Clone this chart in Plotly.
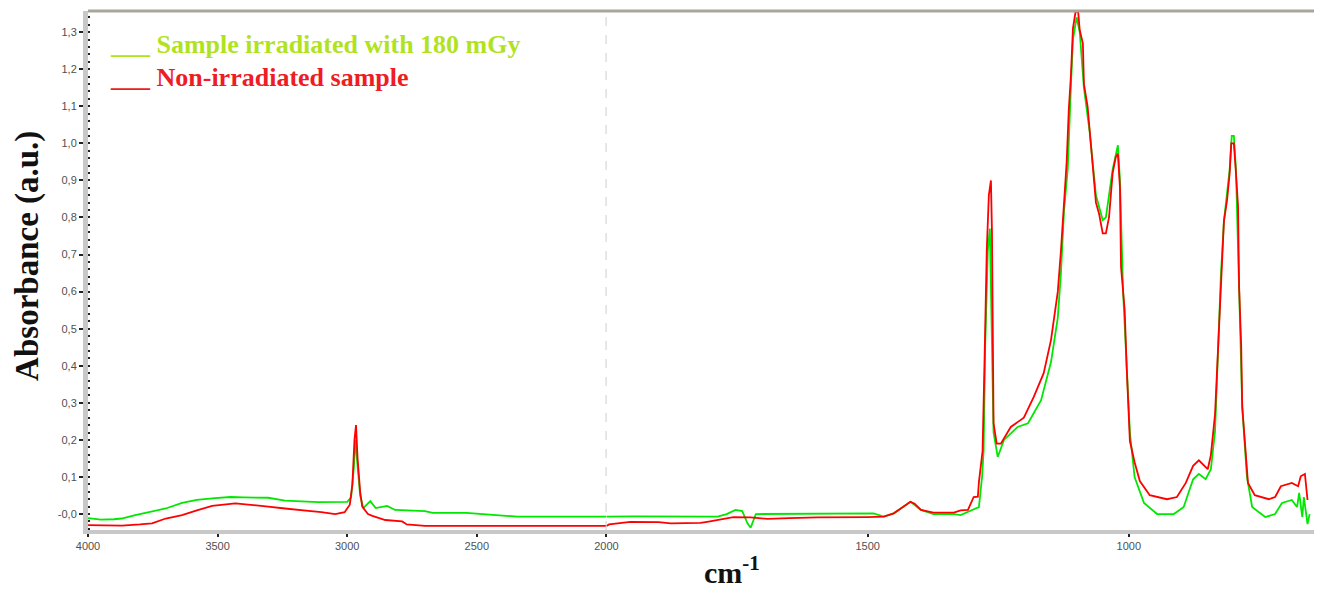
import numpy as np
import plotly.graph_objects as go

# ---- data (wavenumber cm-1, absorbance) ----
red_w = [4000, 3950, 3869, 3800, 3753, 3700, 3637, 3580, 3521, 3432, 3380, 3305, 3240, 3174, 3100,
         3046, 3010, 2990, 2980, 2972, 2966, 2960, 2950, 2942, 2920, 2903, 2870, 2853, 2788, 2770,
         2700, 2000, 1995, 1954, 1900, 1877, 1820, 1807, 1770, 1757, 1724, 1692, 1650, 1596, 1500,
         1469, 1450, 1430, 1418, 1410, 1398, 1374, 1335, 1322, 1308, 1297, 1289, 1287, 1280, 1276,
         1272, 1268, 1264, 1262, 1261, 1259, 1253, 1245, 1226, 1201, 1182, 1163, 1149, 1136, 1130,
         1124, 1119, 1115, 1111, 1107, 1102, 1097, 1094, 1088, 1086, 1079, 1075, 1069, 1063, 1057,
         1050, 1044, 1038, 1031, 1025, 1021, 1017, 1015, 1011, 1008, 1004, 1001, 998, 989, 979,
         960, 927, 908, 891, 877, 866, 849, 843, 835, 829, 824, 818, 812, 807, 804,
         799, 795, 791, 789, 785, 783, 777, 772, 759, 732, 720, 709, 688, 676, 671,
         663, 658]
red_a = [-0.030, -0.031, -0.031, -0.028, -0.025, -0.012, -0.003, 0.010, 0.022, 0.029, 0.026, 0.020, 0.015, 0.011, 0.005,
         0.000, 0.005, 0.025, 0.080, 0.200, 0.240, 0.150, 0.060, 0.020, 0.000, -0.005, -0.012, -0.016, -0.020, -0.028,
         -0.032, -0.032, -0.028, -0.021, -0.022, -0.025, -0.024, -0.021, -0.012, -0.008, -0.009, -0.013, -0.011, -0.009, -0.008,
         -0.007, 0.002, 0.020, 0.033, 0.028, 0.011, 0.004, 0.004, 0.010, 0.011, 0.046, 0.047, 0.086, 0.170, 0.430,
         0.710, 0.860, 0.900, 0.760, 0.510, 0.245, 0.190, 0.190, 0.235, 0.260, 0.316, 0.380, 0.470, 0.600, 0.710,
         0.850, 0.950, 1.090, 1.180, 1.310, 1.355, 1.355, 1.305, 1.270, 1.160, 1.100, 1.030, 0.930, 0.840, 0.810,
         0.757, 0.757, 0.800, 0.920, 0.963, 0.972, 0.880, 0.667, 0.585, 0.550, 0.390, 0.300, 0.197, 0.140, 0.089,
         0.051, 0.040, 0.046, 0.084, 0.130, 0.145, 0.121, 0.159, 0.270, 0.456, 0.640, 0.790, 0.847, 0.920, 1.000,
         1.000, 0.920, 0.830, 0.615, 0.456, 0.290, 0.178, 0.084, 0.051, 0.040, 0.046, 0.075, 0.084, 0.075, 0.102,
         0.108, 0.038]

green_w = [4000, 3950, 3900, 3870, 3818, 3760, 3700, 3637, 3580, 3510, 3450, 3400, 3305, 3240, 3112,
           3000, 2985, 2975, 2968, 2960, 2950, 2938, 2911, 2890, 2846, 2815, 2700, 2670, 2540, 2400,
           2344, 2000, 1948, 1787, 1770, 1753, 1740, 1730, 1724, 1714, 1653, 1600, 1489, 1469, 1450,
           1418, 1398, 1374, 1335, 1322, 1287, 1281, 1278, 1275, 1270, 1266, 1262, 1259, 1251, 1239,
           1213, 1193, 1168, 1149, 1136, 1130, 1124, 1117, 1111, 1107, 1100, 1094, 1086, 1075, 1063,
           1050, 1044, 1031, 1021, 1017, 1011, 1004, 998, 989, 971, 946, 914, 895, 877, 866,
           853, 843, 835, 829, 824, 818, 807, 803, 799, 795, 789, 783, 774, 764, 739,
           720, 707, 688, 678, 674, 668, 665, 658, 654]
green_a = [-0.011, -0.015, -0.014, -0.012, -0.003, 0.005, 0.015, 0.030, 0.038, 0.043, 0.046, 0.045, 0.044, 0.036, 0.032,
           0.033, 0.045, 0.120, 0.200, 0.130, 0.050, 0.016, 0.035, 0.016, 0.022, 0.011, 0.008, 0.003, 0.003, -0.004,
           -0.007, -0.007, -0.006, -0.007, 0.000, 0.011, 0.008, -0.025, -0.037, 0.000, 0.000, 0.002, 0.002, -0.007, 0.002,
           0.033, 0.011, 0.000, 0.000, -0.003, 0.019, 0.100, 0.170, 0.450, 0.710, 0.770, 0.500, 0.220, 0.154, 0.200,
           0.235, 0.245, 0.307, 0.410, 0.530, 0.650, 0.820, 0.930, 1.150, 1.280, 1.340, 1.300, 1.150, 1.030, 0.860,
           0.793, 0.800, 0.930, 0.995, 0.900, 0.600, 0.400, 0.220, 0.100, 0.030, 0.000, 0.000, 0.019, 0.094, 0.108,
           0.094, 0.121, 0.224, 0.450, 0.640, 0.790, 0.930, 1.020, 1.020, 0.930, 0.620, 0.290, 0.100, 0.019, -0.008,
           0.000, 0.030, 0.038, 0.019, 0.057, -0.008, 0.046, -0.027, 0.000]

y_ticks = [0.0, 0.1, 0.2, 0.3, 0.4, 0.5, 0.6, 0.7, 0.8, 0.9, 1.0, 1.1, 1.2, 1.3]
y_labels = ["-0,0", "0,1", "0,2", "0,3", "0,4", "0,5", "0,6", "0,7", "0,8", "0,9", "1,0", "1,1", "1,2", "1,3"]
x1_ticks = [4000, 3500, 3000, 2500, 2000]
x2_ticks = [1500, 1000]

series = [("Sample irradiated with 180 mGy", green_w, green_a, "#00e800"),
          ("Non-irradiated sample", red_w, red_a, "#ff0000")]

fig = go.Figure()
for name, w, a, col in series:
    w = np.array(w, float)
    a = np.array(a, float)
    hi = w >= 2000
    lo = w <= 2000
    fig.add_trace(go.Scatter(x=w[hi], y=a[hi], mode="lines", line=dict(color=col, width=1.8),
                             xaxis="x", yaxis="y", showlegend=False, name=name))
    fig.add_trace(go.Scatter(x=w[lo], y=a[lo], mode="lines", line=dict(color=col, width=1.8),
                             xaxis="x2", yaxis="y", showlegend=False, name=name))

split = 518 / 1225
tickfont = dict(family="Liberation Sans, Arial", size=11, color="#505050")
axcommon = dict(showline=True, linecolor="#c8c8c8", linewidth=4, ticks="outside", ticklen=3,
                tickcolor="#222", tickwidth=2, showgrid=False, zeroline=False, tickfont=tickfont)

serif = "Liberation Serif, Times New Roman"
fig.update_layout(
    width=1332, height=591, autosize=False,
    margin=dict(l=88, r=6, t=11, b=61),
    paper_bgcolor="white", plot_bgcolor="white",
    xaxis=dict(domain=[0, split], range=[4000, 2000], tickvals=x1_ticks,
               ticktext=[str(t) for t in x1_ticks], anchor="y", **axcommon),
    xaxis2=dict(domain=[split, 1], range=[2000, 645.6], tickvals=x2_ticks,
                ticktext=[str(t) for t in x2_ticks], anchor="y", **axcommon),
    yaxis=dict(range=[-0.043, 1.357], tickvals=y_ticks, ticktext=y_labels,
               showline=True, linecolor="#c8c8c8", linewidth=5, ticks="outside", ticklen=4,
               tickcolor="#222", tickwidth=2, showgrid=False, zeroline=False, tickfont=tickfont,
               minor=dict(dtick=0.02, ticks="inside", ticklen=2, tickcolor="#222", tickwidth=2)),
    shapes=[
        dict(type="line", xref="x", yref="paper", x0=2000, x1=2000, y0=0, y1=1,
             line=dict(color="#bdbdbd", width=1.5, dash="dash")),
        dict(type="line", xref="paper", yref="paper", x0=0, x1=1, y0=1, y1=1,
             line=dict(color="#aaa69c", width=3)),
    ],
    annotations=[
        dict(text="<b>Absorbance (a.u.)</b>", textangle=-90, xref="paper", yref="paper",
             x=-0.049, y=0.528, showarrow=False, xanchor="center", yanchor="middle",
             font=dict(family=serif, size=33, color="#111")),
        dict(text="<b>cm<sup>-1</sup></b>", xref="paper", yref="paper",
             x=0.525, y=-0.078, showarrow=False, xanchor="center", yanchor="middle",
             font=dict(family=serif, size=30, color="#111")),
        dict(text="<b>___ Sample irradiated with 180 mGy</b>", xref="paper", yref="paper",
             x=0.0163, y=0.936, showarrow=False, xanchor="left", yanchor="middle",
             font=dict(family=serif, size=26, color="#b0e31e")),
        dict(text="<b>___ Non-irradiated sample</b>", xref="paper", yref="paper",
             x=0.0163, y=0.871, showarrow=False, xanchor="left", yanchor="middle",
             font=dict(family=serif, size=26, color="#ee1c24")),
    ],
)

fig.write_html("out.html",
               config={"responsive": False, "displayModeBar": False},
               post_script="document.body.style.margin='0';document.body.style.overflow='hidden';")
